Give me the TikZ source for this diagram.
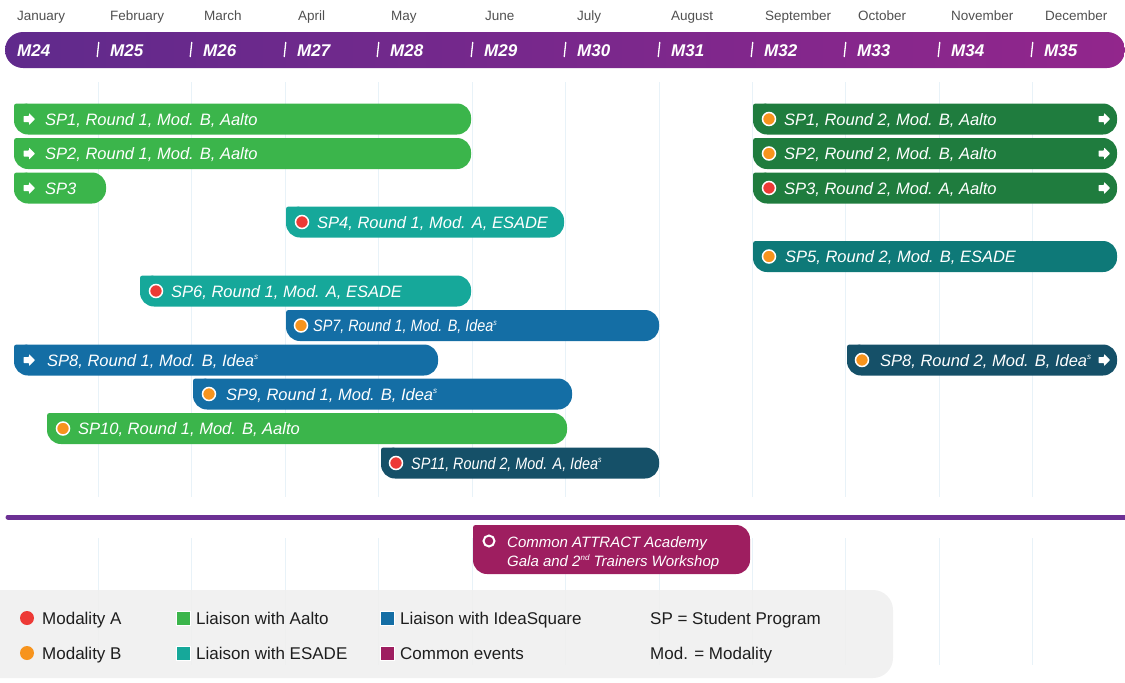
\documentclass[tikz,border=0pt]{standalone}
\usepackage{fontspec}
\setmainfont{Liberation Sans}
\definecolor{aaltoA}{RGB}{59,181,75}
\definecolor{aaltoB}{RGB}{31,124,62}
\definecolor{esadeA}{RGB}{22,168,154}
\definecolor{esadeB}{RGB}{14,121,120}
\definecolor{ideaA}{RGB}{20,110,165}
\definecolor{ideaB}{RGB}{21,80,104}
\definecolor{commonC}{RGB}{158,30,96}
\definecolor{modA}{RGB}{237,58,54}
\definecolor{modB}{RGB}{247,148,29}
\definecolor{purpL}{RGB}{96,42,140}
\definecolor{purpR}{RGB}{146,38,140}
\definecolor{purpLine}{RGB}{108,48,148}
\definecolor{gridC}{RGB}{232,242,248}
\definecolor{monthC}{RGB}{80,80,80}
\definecolor{legBg}{RGB}{239,239,239}
\definecolor{legText}{RGB}{30,30,30}
\newcommand\spbar[4]{%
  \fill[#4, rounded corners=14pt] (#1,#3-15.5) rectangle (#2,#3+15.5);
  \fill[#4, rounded corners=2.5pt] (#1,#3-15.5) rectangle (#1+15,#3);}
\newcommand\arrowicon[2]{%
  \fill[white, rounded corners=0.6pt] (#1-5.5,#2-3) -- (#1,#2-3) -- (#1,#2-6) -- (#1+6,#2) -- (#1,#2+6) -- (#1,#2+3) -- (#1-5.5,#2+3) -- cycle;}
\newcommand\supsm[1]{\raisebox{0.7ex}{\fontsize{8}{9}\selectfont #1}}
\begin{document}
\begin{tikzpicture}[x=1pt,y=-1pt,
  month/.style={font=\fontsize{13.5}{15}\selectfont, text=monthC, anchor=base west, inner sep=0pt},
  mlab/.style={font=\fontsize{17}{19}\selectfont\bfseries\itshape, text=white, anchor=base west, inner sep=0pt},
  bartext/.style={font=\fontsize{16.5}{18}\selectfont\itshape, text=white, anchor=base west, inner sep=0pt},
  dotA/.style={circle, fill=modA, draw=white, line width=1.5pt, minimum size=13pt, inner sep=0pt},
  dotB/.style={circle, fill=modB, draw=white, line width=1.5pt, minimum size=13pt, inner sep=0pt},
  leg/.style={font=\fontsize{17}{19}\selectfont, text=legText, anchor=base west, inner sep=0pt},
  legsq/.style={draw=white, line width=1pt, minimum size=14pt, inner sep=0pt},
  legdot/.style={circle, minimum size=14pt, inner sep=0pt},
  gridl/.style={draw=gridC, line width=1pt}]
\useasboundingbox (0,0) rectangle (1125,683);
% grid lines
\foreach \gx in {98,191,285,378,472,565,659,752,845,939,1032}{
  \draw[gridl] (\gx,82) -- (\gx,497);
  \draw[gridl] (\gx,538) -- (\gx,665);
}
% months
\node[month] (jan) at (17,20) {January};
\node[month] (feb) at (110,20) {February};
\node[month] (mar) at (204,20) {March};
\node[month] (apr) at (298,20) {April};
\node[month] (may) at (391,20) {May};
\node[month] (jun) at (485,20) {June};
\node[month] (jul) at (577,20) {July};
\node[month] (aug) at (671,20) {August};
\node[month] (sep) at (765,20) {September};
\node[month] (oct) at (858,20) {October};
\node[month] (nov) at (951,20) {November};
\node[month] (dec) at (1045,20) {December};
% purple header bar
\shade[left color=purpL, right color=purpR, rounded corners=18pt] (5,32) rectangle (1125,68);
\node[mlab] (m24) at (17,56) {M24};
\foreach \sx/\lab in {98/25,191/26,285/27,378/28,472/29,565/30,659/31,752/32,845/33,939/34,1032/35}{
  \draw[white, line width=1.3pt] (\sx+0.8,42) -- (\sx-0.8,57);
  \node[mlab] (m\lab) at (\sx+12,56) {M\lab};
}
% bars
\spbar{14}{471}{119}{aaltoA}
\arrowicon{29}{119}
\node[bartext] (sp1a) at (45,125) {SP1, Round 1, Mod. B, Aalto};
\spbar{14}{471}{153.5}{aaltoA}
\arrowicon{29}{153.5}
\node[bartext] (sp2a) at (45,159.5) {SP2, Round 1, Mod. B, Aalto};
\spbar{14}{106}{188}{aaltoA}
\arrowicon{29}{188}
\node[bartext] (sp3a) at (45,194) {SP3};

\spbar{753}{1117}{119}{aaltoB}
\node[dotB] (d1b) at (769,119) {};
\node[bartext] (sp1b) at (784,125) {SP1, Round 2, Mod. B, Aalto};
\arrowicon{1104}{119}
\spbar{753}{1117}{153.5}{aaltoB}
\node[dotB] (d2b) at (769,153.5) {};
\node[bartext] (sp2b) at (784,159.5) {SP2, Round 2, Mod. B, Aalto};
\arrowicon{1104}{153.5}
\spbar{753}{1117}{188}{aaltoB}
\node[dotA] (d3b) at (769,188) {};
\node[bartext] (sp3b) at (784,194) {SP3, Round 2, Mod. A, Aalto};
\arrowicon{1104}{188}

\spbar{286}{564}{222}{esadeA}
\node[dotA] (d4a) at (302,222) {};
\node[bartext] (sp4a) at (317,228) {SP4, Round 1, Mod. A, ESADE};

\spbar{753}{1117}{256.5}{esadeB}
\node[dotB] (d5b) at (769,256.5) {};
\node[bartext] (sp5b) at (785,262.5) {SP5, Round 2, Mod. B, ESADE};

\spbar{140}{471}{291}{esadeA}
\node[dotA] (d6a) at (156,291) {};
\node[bartext] (sp6a) at (171,297) {SP6, Round 1, Mod. A, ESADE};

\spbar{286}{659}{325.5}{ideaA}
\node[dotB] (d7a) at (301,325.5) {};
\node[bartext] (sp7a) at (313,331.5) {\scalebox{0.87}[1]{SP7, Round 1, Mod. B, Idea\supsm{s}}};

\spbar{14}{438}{360}{ideaA}
\arrowicon{29}{360}
\node[bartext] (sp8a) at (47,366) {SP8, Round 1, Mod. B, Idea\supsm{s}};

\spbar{847}{1117}{360}{ideaB}
\node[dotB] (d8b) at (862,360) {};
\node[bartext] (sp8b) at (880,366) {SP8, Round 2, Mod. B, Idea\supsm{s}};
\arrowicon{1104}{360}

\spbar{193}{572}{394}{ideaA}
\node[dotB] (d9a) at (209,394) {};
\node[bartext] (sp9a) at (226,400) {SP9, Round 1, Mod. B, Idea\supsm{s}};

\spbar{47}{567}{428.5}{aaltoA}
\node[dotB] (d10a) at (63,428.5) {};
\node[bartext] (sp10a) at (78,434.5) {SP10, Round 1, Mod. B, Aalto};

\spbar{381}{659}{463}{ideaB}
\node[dotA] (d11b) at (396,463) {};
\node[bartext] (sp11b) at (411,469) {\scalebox{0.87}[1]{SP11, Round 2, Mod. A, Idea\supsm{s}}};

% separator line
\draw[purpLine, line width=5pt, line cap=round] (8,517) -- (1125,517);

% common event
\fill[commonC, rounded corners=14pt] (473,525) rectangle (750,574);
\fill[commonC, rounded corners=2.5pt] (473,525) rectangle (490,545);
\node[circle, draw=white, line width=2pt, minimum size=11pt, inner sep=0pt] (cdot) at (489,541) {};
\node[font=\fontsize{15}{18}\selectfont\itshape, text=white, anchor=base west, inner sep=0pt] (com1) at (507,547) {Common ATTRACT Academy};
\node[font=\fontsize{15}{18}\selectfont\itshape, text=white, anchor=base west, inner sep=0pt] (com2) at (507,566) {Gala and 2\supsm{nd} Trainers Workshop};

% legend
\fill[legBg, opacity=0.9, rounded corners=20pt] (-30,590) rectangle (893,678);
\node[legdot, fill=modA] (lga) at (27,618) {};
\node[leg] (lgat) at (42,624) {Modality A};
\node[legdot, fill=modB] (lgb) at (27,653) {};
\node[leg] (lgbt) at (42,659) {Modality B};
\node[legsq, fill=aaltoA] (lgc) at (183,618) {};
\node[leg] (lgct) at (196,624) {Liaison with Aalto};
\node[legsq, fill=esadeA] (lgd) at (183,653) {};
\node[leg] (lgdt) at (196,659) {Liaison with ESADE};
\node[legsq, fill=ideaA] (lge) at (387,618) {};
\node[leg] (lget) at (400,624) {Liaison with IdeaSquare};
\node[legsq, fill=commonC] (lgf) at (387,653) {};
\node[leg] (lgft) at (400,659) {Common events};
\node[leg] (lgg) at (650,624) {SP = Student Program};
\node[leg] (lgh) at (650,659) {Mod. = Modality};
\end{tikzpicture}
\end{document}
